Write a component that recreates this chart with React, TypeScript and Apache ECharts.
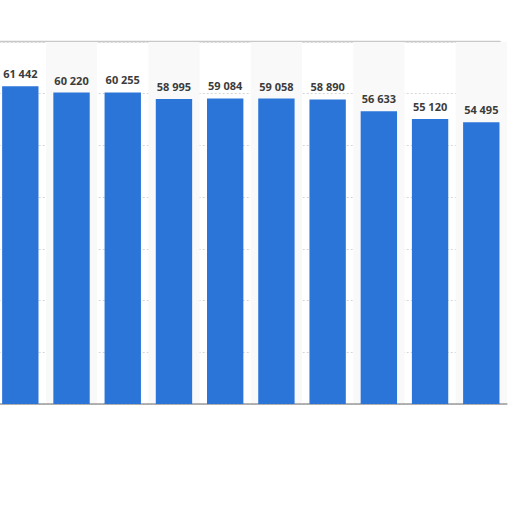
import React, { useEffect, useRef } from "react";
import * as echarts from "echarts";

const categories = ["1", "2", "3", "4", "5", "6", "7", "8", "9", "10"];
const values = [61442, 60220, 60255, 58995, 59084, 59058, 58890, 56633, 55120, 54495];
const yMin = 0;
const yMax = 70000;
const yInterval = 10000;

const fmt = (v: number) => String(v).replace(/\B(?=(\d{3})+(?!\d))/g, " ");

const SHIFT = 6;

export default function App() {
  const ref = useRef<HTMLDivElement>(null);
  useEffect(() => {
    if (!ref.current) return;
    const chart = echarts.init(ref.current, null, { renderer: "svg" });
    chart.setOption({
      animation: false,
      backgroundColor: "#ffffff",
      grid: { left: 0.7, right: 5.1, top: 42, bottom: 108, containLabel: false },
      xAxis: {
        type: "category",
        data: categories,
        axisLine: { show: true, lineStyle: { color: "#9a9a9a", width: 1.5 } },
        axisTick: { show: false },
        axisLabel: { show: false },
        splitArea: { show: true, areaStyle: { color: ["rgba(255,255,255,0)", "#f9f9f9"] } },
      },
      yAxis: {
        type: "value",
        min: yMin,
        max: yMax,
        interval: yInterval,
        axisLabel: { show: false },
        axisLine: { show: false },
        axisTick: { show: false },
        splitLine: { show: true, lineStyle: { color: "#d6d6d6", type: [2, 2], width: 1 } },
      },
      series: [
        {
          type: "bar",
          data: values,
          barCategoryGap: "29%",
          itemStyle: { color: "#2b74d8" },
          label: {
            show: true,
            position: "top",
            distance: 7,
            formatter: (p: any) => fmt(p.value),
            color: "#3c3c3c",
            fontFamily: "Open Sans",
            fontWeight: "bold",
            fontSize: 11,
          },
        },
      ],
      graphic: [
        {
          type: "line",
          shape: { x1: SHIFT, y1: 41.5, x2: 500 + SHIFT, y2: 41.5 },
          style: { stroke: "#c8c8c8", lineWidth: 1.5 },
          silent: true,
        },
        {
          type: "line",
          shape: { x1: 500.5 + SHIFT, y1: 41.5, x2: 500.5 + SHIFT, y2: 404 },
          style: { stroke: "#b8b8b8", lineWidth: 1.5 },
          silent: true,
        },
      ],
    });
    return () => chart.dispose();
  }, []);
  return (
    <div
      ref={ref}
      style={{ position: "absolute", left: -SHIFT, top: 0, width: 512 + SHIFT, height: 512 }}
    />
  );
}
